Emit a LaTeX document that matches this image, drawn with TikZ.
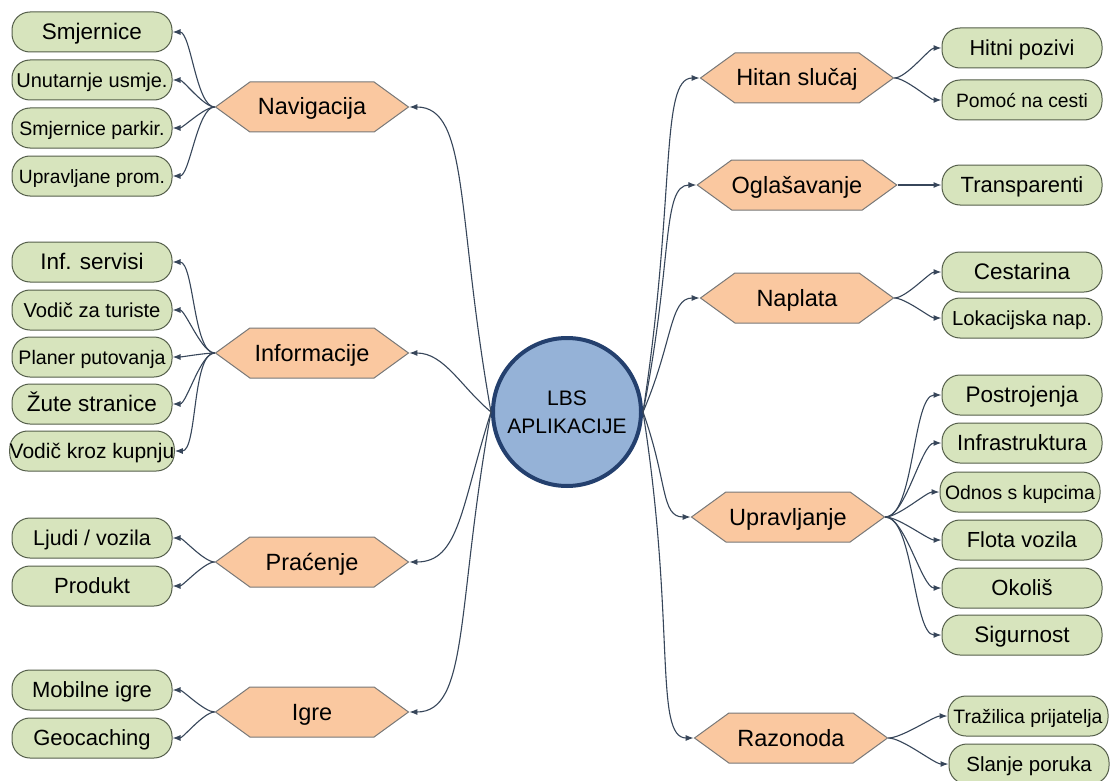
\documentclass[tikz,border=0pt]{standalone}
\usepackage{fontspec}
\setmainfont{Liberation Sans}
\usetikzlibrary{shapes.symbols,arrows.meta}

\definecolor{leaffill}{RGB}{215,228,189}
\definecolor{leafdraw}{RGB}{85,95,75}
\definecolor{hexfill}{RGB}{250,200,160}
\definecolor{hexdraw}{RGB}{120,120,120}
\definecolor{hubfill}{RGB}{149,178,215}
\definecolor{hubdraw}{RGB}{36,64,110}
\definecolor{linkcol}{RGB}{55,70,90}

\begin{document}
\begin{tikzpicture}[x=1pt,y=1pt,
  hub/.style={circle,draw=hubdraw,line width=4pt,fill=hubfill,minimum size=148pt,
    inner sep=0pt,align=center,font=\fontsize{21}{28}\selectfont},
  branch/.style={signal,signal to=west and east,signal pointer angle=72,
    draw=hexdraw,fill=hexfill,line width=1pt,minimum width=193pt,minimum height=50pt,
    inner sep=0pt,text height=16pt,text depth=0pt,font=\fontsize{23.5}{26}\selectfont},
  leaf/.style={rectangle,rounded corners=18pt,draw=leafdraw,fill=leaffill,line width=1pt,
    minimum width=160pt,minimum height=40pt,inner sep=0pt,
    text height=15pt,text depth=0pt,font=\fontsize{#1}{#1}\selectfont},
  leaf/.default=22,
  link/.style={draw=linkcol,line width=1.1pt,-{Latex[length=8pt,width=6pt]}},
  fan/.style={link,looseness=0.55},
]
% page size and white background
\path[use as bounding box,fill=white] (0,0) rectangle (1113,-781);

% centre
\node[hub] (lbs) at (567,-412) {LBS\\APLIKACIJE};

% left branches
\node[branch] (nav) at (312,-107) {Navigacija};
\node[branch] (inf) at (312,-353) {Informacije};
\node[branch] (pra) at (312,-562) {Praćenje};
\node[branch] (igr) at (312,-712) {Igre};

% right branches
\node[branch] (hit) at (797,-78) {Hitan slučaj};
\node[branch] (ogl) at (797,-185) {Oglašavanje};
\node[branch] (nap) at (797,-298) {Naplata};
\node[branch] (upr) at (788,-517) {Upravljanje};
\node[branch] (raz) at (791,-738) {Razonoda};

% leaves of Navigacija
\node[leaf=22.5] (nav1) at (92,-32) {Smjernice};
\node[leaf=20] (nav2) at (92,-80) {Unutarnje usmje.};
\node[leaf=19.5] (nav3) at (92,-128) {Smjernice parkir.};
\node[leaf=19.2] (nav4) at (92,-176) {Upravljane prom.};

% leaves of Informacije
\node[leaf=22.5] (inf1) at (92,-262) {Inf. servisi};
\node[leaf=20.2] (inf2) at (92,-310) {Vodič za turiste};
\node[leaf=19.6] (inf3) at (92,-357) {Planer putovanja};
\node[leaf=22.5] (inf4) at (92,-404) {Žute stranice};
\node[leaf=21] (inf5) at (92,-451) {Vodič kroz kupnju};

% leaves of Praćenje and Igre
\node[leaf=21.4] (pra1) at (92,-538) {Ljudi / vozila};
\node[leaf] (pra2) at (92,-586) {Produkt};
\node[leaf] (igr1) at (92,-690) {Mobilne igre};
\node[leaf] (igr2) at (92,-738) {Geocaching};

% leaves on the right
\node[leaf=21.7] (hit1) at (1022,-48) {Hitni pozivi};
\node[leaf=19.3] (hit2) at (1022,-100) {Pomoć na cesti};
\node[leaf] (ogl1) at (1022,-185) {Transparenti};
\node[leaf=22.5] (nap1) at (1022,-272) {Cestarina};
\node[leaf=20.3] (nap2) at (1022,-318) {Lokacijska nap.};
\node[leaf=22.5] (upr1) at (1022,-395) {Postrojenja};
\node[leaf] (upr2) at (1022,-443) {Infrastruktura};
\node[leaf=19.4] (upr3) at (1020,-492) {Odnos s kupcima};
\node[leaf=21.8] (upr4) at (1022,-540) {Flota vozila};
\node[leaf] (upr5) at (1022,-588) {Okoliš};
\node[leaf=22.5] (upr6) at (1022,-635) {Sigurnost};
\node[leaf=19.4] (raz1) at (1028,-716) {Tražilica prijatelja};
\node[leaf=20.5] (raz2) at (1029,-764) {Slanje poruka};

% centre to branches
\draw[link] (lbs.west) .. controls +(-35,197) and +(60,0) .. (nav.east);
\draw[link] (lbs.west) .. controls +(-30,25) and +(35,0) .. (inf.east);
\draw[link] (lbs.west) .. controls +(-30,-95) and +(50,0) .. (pra.east);
\draw[link] (lbs.west) .. controls +(-35,-195) and +(60,0) .. (igr.east);
\draw[link] (lbs.east) .. controls +(33,215) and +(-40,0) .. (hit.west);
\draw[link] (lbs.east) .. controls +(30,150) and +(-35,0) .. (ogl.west);
\draw[link] (lbs.east) .. controls +(30,70) and +(-30,0) .. (nap.west);
\draw[link] (lbs.east) .. controls +(25,-70) and +(-30,0) .. (upr.west);
\draw[link] (lbs.east) .. controls +(33,-210) and +(-40,0) .. (raz.west);

% branches to leaves
\foreach \leafname in {nav1,nav2,nav3,nav4}
  \draw[fan] (nav.west) to[out=180,in=0] (\leafname.east);
\foreach \leafname in {inf1,inf2,inf3,inf4,inf5}
  \draw[fan] (inf.west) to[out=180,in=0] (\leafname.east);
\foreach \leafname in {pra1,pra2}
  \draw[fan] (pra.west) to[out=180,in=0] (\leafname.east);
\foreach \leafname in {igr1,igr2}
  \draw[fan] (igr.west) to[out=180,in=0] (\leafname.east);
\foreach \leafname in {hit1,hit2}
  \draw[fan] (hit.east) to[out=0,in=180] (\leafname.west);
\draw[link] (ogl.east) -- (ogl1.west);
\foreach \leafname in {nap1,nap2}
  \draw[fan] (nap.east) to[out=0,in=180] (\leafname.west);
\foreach \leafname in {upr1,upr2,upr3,upr4,upr5,upr6}
  \draw[fan] (upr.east) to[out=0,in=180] (\leafname.west);
\foreach \leafname in {raz1,raz2}
  \draw[fan] (raz.east) to[out=0,in=180] (\leafname.west);
\end{tikzpicture}
\end{document}
